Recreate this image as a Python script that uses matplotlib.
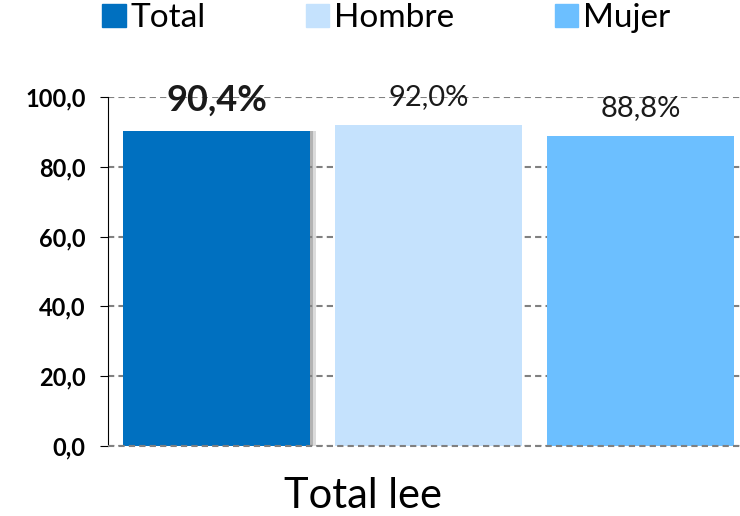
import matplotlib
matplotlib.use("Agg")
import matplotlib.pyplot as plt
import matplotlib.patheffects as pe
from matplotlib.ticker import FuncFormatter
from matplotlib.patches import Patch

# Datos
series = ["Total", "Hombre", "Mujer"]
valores = [90.4, 92.0, 88.8]
etiquetas = ["90,4%", "92,0%", "88,8%"]
categoria = "Total lee"
colores = ["#0070C0", "#C5E2FD", "#6CBFFF"]

plt.rcParams["font.family"] = ["Lato", "DejaVu Sans"]

fig = plt.figure(figsize=(7.4, 5.16), dpi=100)
ax = fig.add_axes([108 / 740, 1 - 446 / 516, 1 - 108 / 740, (446 - 97) / 516])

pos = [-1, 0, 1]
barras = ax.bar(pos, valores, width=0.882, color=colores, zorder=3)
# sombra suave a la derecha de la barra Total
barras[0].set_path_effects([
    pe.SimplePatchShadow(offset=(4, 0), shadow_rgbFace="#999999", alpha=0.35),
    pe.SimplePatchShadow(offset=(2, 0), shadow_rgbFace="#777777", alpha=0.4),
    pe.Normal()])

for i, (x, v) in enumerate(zip(pos, valores)):
    ax.annotate(etiquetas[i], (x, v), xytext=(0, 22 if i == 0 else 20), textcoords="offset points",
                ha="center", va="center",
                fontsize=26 if i == 0 else 21,
                fontweight="bold" if i == 0 else "normal", color="#1a1a1a", zorder=5)

ax.set_ylim(0, 100)
ax.set_xlim(-1.512, 1.467)
ax.set_yticks([0, 20, 40, 60, 80, 100])
ax.yaxis.set_major_formatter(FuncFormatter(lambda v, p: f"{v:.1f}".replace(".", ",")))
ax.tick_params(axis="y", labelsize=17, length=6, width=0.8, direction="out", pad=10)
for lab in ax.get_yticklabels():
    lab.set_fontweight("bold")
ax.set_xticks([])
ax.grid(axis="y", color="#808080", linestyle=(0, (3, 2)), linewidth=1.5, zorder=0)
ax.axhline(0, color="#808080", linestyle=(0, (3, 2)), linewidth=1.5, zorder=4, clip_on=False)
for s in ["top", "right", "bottom"]:
    ax.spines[s].set_visible(False)
ax.spines["left"].set_linewidth(0.8)

fig.text(0.49, 1 - 496 / 516, categoria, ha="center", va="center", fontsize=30)

handles = [Patch(color=c) for c in colores]
fig.legend(handles, series, loc="center", bbox_to_anchor=(0.522, 1 - 18 / 516), ncol=3,
           frameon=False, fontsize=24, handlelength=0.7, handleheight=0.7,
           handletextpad=0.15, columnspacing=3.0)

fig.savefig("out.png", dpi=100)
